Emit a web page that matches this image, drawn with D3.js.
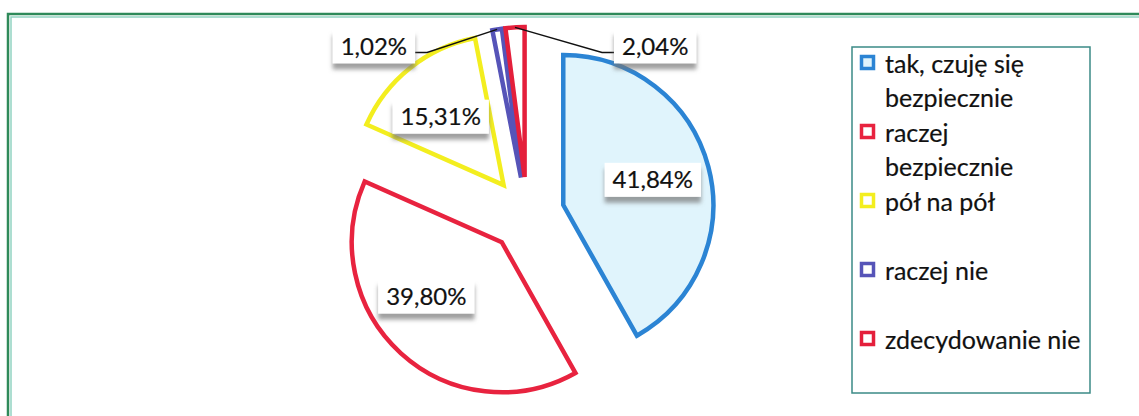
<!DOCTYPE html>
<html lang="pl">
<head>
<meta charset="UTF-8">
<title>Poczucie bezpieczeństwa</title>
<script src="https://d3js.org/d3.v7.min.js"></script>
<style>
  body { margin: 0; background: #fff; }
  text { font-family: Lato, "Open Sans", sans-serif; fill: #111; stroke: #111; stroke-width: 0.2px; }
</style>
</head>
<body>
<div id="chart"></div>
<script>
// data
var categories = ["tak, czuję się bezpiecznie", "raczej bezpiecznie", "pół na pół", "raczej nie", "zdecydowanie nie"];
var legendLines = [["tak, czuję się", "bezpiecznie"], ["raczej", "bezpiecznie"], ["pół na pół"], ["raczej nie"], ["zdecydowanie nie"]];
var shares = [41.84, 39.80, 15.31, 1.02, 2.04];
var labels = ["41,84%", "39,80%", "15,31%", "1,02%", "2,04%"];

// styling
var strokes = ["#2b84d4", "#e8233f", "#f3ee1f", "#5654b8", "#e41f3b"];
var fills = ["#e0f4fc", "#ffffff", "#ffffff", "#ffffff", "#ffffff"];

var W = 1139, H = 416;
var cx = 527, cy = 214.5, R = 150, explode = 37.5;
var labelR = 93;
// small nudges of the label angle (degrees), like Excel's best fit
var labelShift = [-1, 12, -4, 0, 0];
// slices whose labels sit outside with a leader line
var outside = {3: {ex: -70, ey: 23, side: -1}, 4: {ex: 87, ey: 25, side: 1}};

var svg = d3.select("#chart").append("svg")
  .attr("width", W).attr("height", H);

// drop shadow for the label boxes
var defs = svg.append("defs");
var f = defs.append("filter").attr("id", "shadow")
  .attr("x", "-10%").attr("y", "-10%").attr("width", "120%").attr("height", "160%");
f.append("feDropShadow").attr("dx", 0).attr("dy", 6).attr("stdDeviation", 2)
  .attr("flood-color", "#777").attr("flood-opacity", 0.7);

// double green frame
svg.append("path").attr("d", "M8,416V14H1139").attr("fill", "none")
  .attr("stroke", "#2f8a5a").attr("stroke-width", 2.5);
svg.append("path").attr("d", "M11,416V17H1139").attr("fill", "none")
  .attr("stroke", "#92d3c2").attr("stroke-width", 1.5);

var pie = d3.pie().sort(null).value(function(d) { return d; });
var arcs = pie(shares);
var arc = d3.arc().innerRadius(0).outerRadius(R);

function dir(a) { return [Math.sin(a), -Math.cos(a)]; }

var g = svg.append("g").attr("transform", "translate(" + cx + "," + cy + ")");

// slices, each pulled out along its mid angle
arcs.forEach(function(a, i) {
  var m = (a.startAngle + a.endAngle) / 2;
  var d = dir(m);
  g.append("path")
    .attr("d", arc(a))
    .attr("transform", "translate(" + d[0] * explode + "," + d[1] * explode + ")")
    .attr("fill", fills[i])
    .attr("stroke", strokes[i])
    .attr("stroke-width", 4.5)
    .attr("stroke-linejoin", "miter");
});

// labels
function labelBox(x, y, txt, anchor) {
  var lg = g.append("g");
  var t = lg.append("text").attr("x", x).attr("y", y).attr("dy", "0.35em")
    .attr("text-anchor", anchor).style("font-size", "24px").text(txt);
  var bb = t.node().getBBox();
  lg.insert("rect", "text")
    .attr("x", bb.x - 8).attr("y", y - 17)
    .attr("width", bb.width + 16).attr("height", 34)
    .attr("fill", "#fff").attr("filter", "url(#shadow)");
}

arcs.forEach(function(a, i) {
  var m = (a.startAngle + a.endAngle) / 2;
  var d = dir(m);
  var ax = d[0] * explode, ay = d[1] * explode;
  if (outside[i]) {
    var o = outside[i];
    var px = ax + d[0] * R, py = ay + d[1] * R;
    var ex = px + o.ex, ey = py + o.ey;
    var hx = ex + o.side * 12;
    g.append("path")
      .attr("d", "M" + px + "," + py + "L" + ex + "," + ey + "L" + hx + "," + ey)
      .attr("fill", "none").attr("stroke", "#111").attr("stroke-width", 1.5);
    labelBox(hx + o.side * 8, ey - 6, labels[i], o.side < 0 ? "end" : "start");
  } else {
    var l = dir(m + labelShift[i] * Math.PI / 180);
    labelBox(ax + l[0] * labelR, ay + l[1] * labelR, labels[i], "middle");
  }
});

// legend
var lx = 852, ly = 47, lw = 238, lh = 346;
svg.append("rect").attr("x", lx).attr("y", ly).attr("width", lw).attr("height", lh)
  .attr("fill", "#fff").attr("stroke", "#3b8a86").attr("stroke-width", 1.5);

var itemStep = 69, lineStep = 34, firstBase = 73;
legendLines.forEach(function(lines, i) {
  var base = firstBase + i * itemStep;
  svg.append("rect")
    .attr("x", 861.5).attr("y", base - 16.5)
    .attr("width", 12).attr("height", 12)
    .attr("fill", fills[i]).attr("stroke", strokes[i]).attr("stroke-width", 3.5);
  lines.forEach(function(s, k) {
    svg.append("text").attr("x", 885).attr("y", base + k * lineStep)
      .style("font-size", "25px").text(s);
  });
});
</script>
</body>
</html>
